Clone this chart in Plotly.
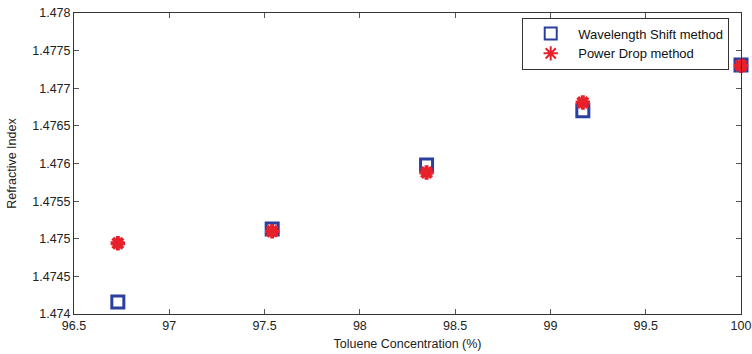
import plotly.graph_objects as go

concentration = [96.73, 97.54, 98.35, 99.17, 100.0]
wavelength_shift = [1.47416, 1.47513, 1.47598, 1.47670, 1.47731]
power_drop = [1.47494, 1.47510, 1.47588, 1.47681, 1.47730]

x_ticks = [96.5, 97, 97.5, 98, 98.5, 99, 99.5, 100]
x_tick_text = ["96.5", "97", "97.5", "98", "98.5", "99", "99.5", "100"]
y_ticks = [1.474, 1.4745, 1.475, 1.4755, 1.476, 1.4765, 1.477, 1.4775, 1.478]
y_tick_text = ["1.474", "1.4745", "1.475", "1.4755", "1.476", "1.4765", "1.477", "1.4775", "1.478"]

fig = go.Figure()
fig.add_trace(go.Scatter(
    x=concentration, y=wavelength_shift, mode="markers",
    name="Wavelength Shift method",
    cliponaxis=False,
    marker=dict(symbol="square-open", size=12, color="#2b3f9e", line=dict(width=3, color="#2b3f9e")),
))
fig.add_trace(go.Scatter(
    x=concentration, y=power_drop, mode="markers",
    name="Power Drop method",
    cliponaxis=False,
    marker=dict(symbol="asterisk-open", size=12, color="#e8202a", line=dict(width=4, color="#e8202a")),
))

axis_common = dict(
    showgrid=False, zeroline=False, showline=True, linecolor="#333333", linewidth=1,
    mirror="ticks", ticks="inside", ticklen=5, tickcolor="#555555", automargin=False,
    tickfont=dict(family="Liberation Sans, Arial", size=12.5, color="#222222"),
)

fig.update_layout(
    width=752, height=354,
    margin=dict(l=74, r=11, t=13, b=40),
    paper_bgcolor="white", plot_bgcolor="white",
    showlegend=True,
    legend=dict(
        x=0.672, y=0.985, xanchor="left", yanchor="top",
        bordercolor="#333333", borderwidth=1, bgcolor="white",
        font=dict(family="Liberation Sans, Arial", size=13, color="#111111"),
        tracegroupgap=0, itemsizing="constant", itemwidth=45,
    ),
    xaxis=dict(range=[96.5, 100], tickvals=x_ticks, ticktext=x_tick_text,
               title=dict(text="Toluene Concentration (%)", standoff=7,
                          font=dict(family="Liberation Sans, Arial", size=12.5, color="#222222")),
               **axis_common),
    yaxis=dict(range=[1.474, 1.478], tickvals=y_ticks, ticktext=y_tick_text,
               title=dict(text="Refractive Index", standoff=12,
                          font=dict(family="Liberation Sans, Arial", size=12.5, color="#222222")),
               **axis_common),
)

fig.write_html("out.html")
